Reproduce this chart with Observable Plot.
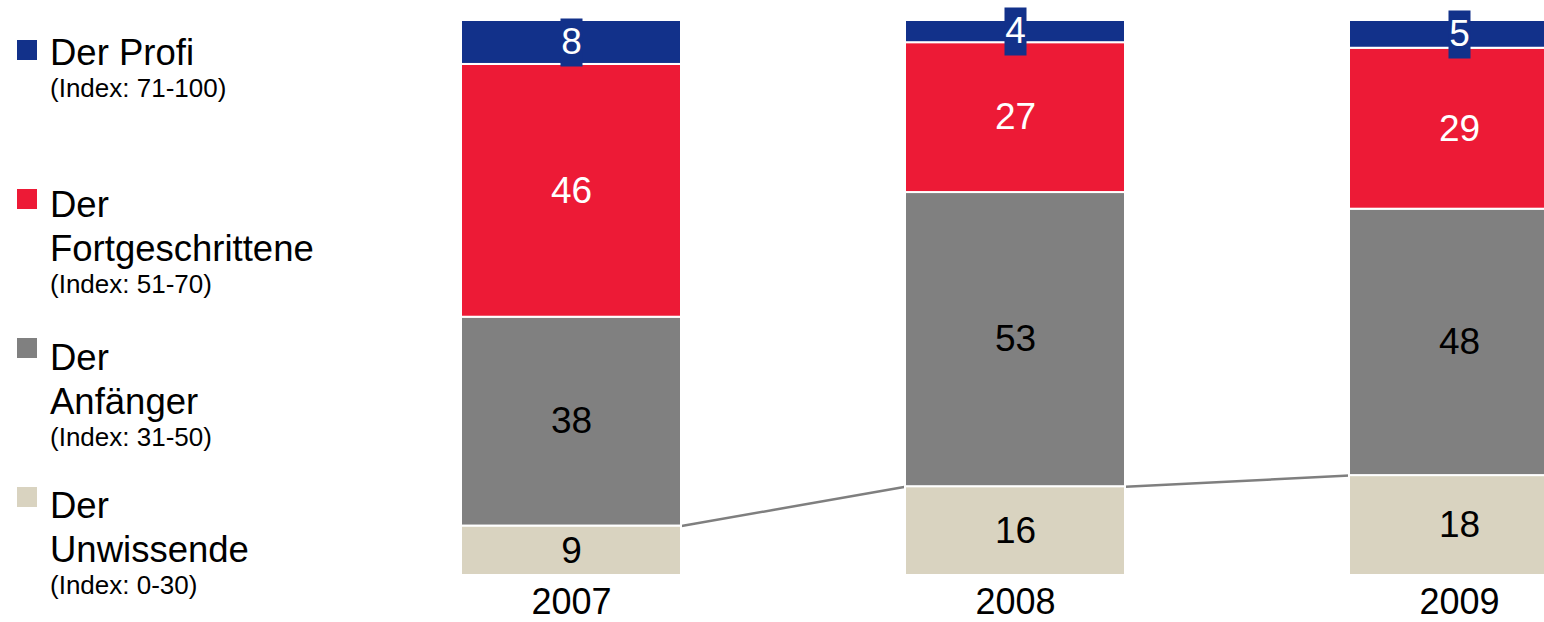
<!DOCTYPE html>
<html>
<head>
<meta charset="utf-8">
<script src="https://cdn.jsdelivr.net/npm/d3@7"></script>
<script src="https://cdn.jsdelivr.net/npm/@observablehq/plot@0.6"></script>
<style>
  html, body { margin: 0; padding: 0; background: #fff; overflow: hidden; }
  #wrap { position: relative; width: 1544px; height: 622px; overflow: hidden;
          font-family: "Liberation Sans", Arial, sans-serif; }
  #chart { position: absolute; left: 0; top: 0; }
  #legend { position: absolute; left: 0; top: 0; width: 340px; height: 622px; z-index: 2; }
  .sw { position: absolute; left: 17px; width: 20px; height: 20px; }
  .lbl { position: absolute; left: 50px; white-space: nowrap; color: #000; }
  .big { font-size: 36.5px; line-height: 44px; }
  .small { font-size: 26px; line-height: 26px; }
</style>
</head>
<body>
<div id="wrap"><div id="chart"></div><div id="legend"></div></div>
<script>
// ---- data ----
const years = ["2007", "2008", "2009"];
const categories = ["Der Unwissende", "Der Anfänger", "Der Fortgeschrittene", "Der Profi"];
const unwissende = [9, 16, 18];
const anfaenger = [38, 53, 48];
const fortgeschrittene = [46, 27, 29];
const profi = [8, 4, 5];
const indexRanges = ["(Index: 0-30)", "(Index: 31-50)", "(Index: 51-70)", "(Index: 71-100)"];
const legendLines = [["Der", "Unwissende"], ["Der", "Anfänger"], ["Der", "Fortgeschrittene"], ["Der Profi"]];

// ---- styles ----
const colors = ["#d9d3c0", "#808080", "#ed1a36", "#12318a"];
const textColors = ["#000000", "#000000", "#ffffff", "#ffffff"];
const legendBaselines = [518, 370, 217, 65];
const legendSquares = [487, 338, 189, 40];
const BAR_HALF = 110;

// ---- legend ----
const legend = document.getElementById("legend");
categories.forEach((cat, i) => {
  const sw = document.createElement("div");
  sw.className = "sw";
  sw.style.top = legendSquares[i] + "px";
  sw.style.background = colors[i];
  legend.appendChild(sw);
  const lbl = document.createElement("div");
  lbl.className = "lbl";
  lbl.style.top = (legendBaselines[i] - 34.5) + "px";
  legendLines[i].forEach(t => {
    const d = document.createElement("div");
    d.className = "big";
    d.textContent = t;
    lbl.appendChild(d);
  });
  const s = document.createElement("div");
  s.className = "small";
  s.textContent = indexRanges[i];
  lbl.appendChild(s);
  legend.appendChild(lbl);
});

// ---- chart ----
const series = [unwissende, anfaenger, fortgeschrittene, profi];
const data = categories.flatMap((cat, ci) =>
  years.map((year, yi) => ({year, cat, ci, value: series[ci][yi]})));
const totals = years.map((y, yi) => series.reduce((s, arr) => s + arr[yi], 0));
const links = years.slice(0, -1).map((y, i) => ({
  x1: y, x2: years[i + 1],
  y1: unwissende[i] / totals[i], y2: unwissende[i + 1] / totals[i + 1]
}));

const stackOpts = (o) => Plot.stackY({x: "year", y: "value", z: "cat", offset: "normalize", ...o});

function edgeCurve(context) {
  let pts = [];
  return {
    areaStart() {}, areaEnd() {},
    lineStart() { pts = []; },
    point(x, y) { pts.push([x, y]); },
    lineEnd() {
      const [a, b] = pts;
      context.moveTo(a[0] + BAR_HALF, a[1]);
      context.lineTo(b[0] - BAR_HALF, b[1]);
    }
  };
}

const boxSymbol = {draw(ctx) { ctx.rect(-11, -24, 22, 48); }};

const chart = Plot.plot({
  width: 1544,
  height: 622,
  marginTop: 20,
  marginBottom: 47,
  marginLeft: 0,
  marginRight: 0,
  x: {type: "band", domain: years, range: [235.5, 1793.5], padding: 0.505},
  y: {domain: [0, 1], range: [575, 20], axis: null},
  color: {type: "identity"},
  style: {fontFamily: "'Liberation Sans', Arial, sans-serif", color: "black", background: "white", overflow: "hidden"},
  marks: [
    Plot.link(links, {x1: "x1", x2: "x2", y1: "y1", y2: "y2", stroke: "#7f7f7f", strokeWidth: 2.5, curve: edgeCurve}),
    Plot.barY(data, stackOpts({fill: d => colors[d.ci], stroke: "white", strokeWidth: 2})),
    Plot.dot(data, stackOpts({fill: d => d.ci === 3 ? colors[3] : "none", stroke: "none", symbol: boxSymbol, r: 10})),
    Plot.text(data, stackOpts({text: d => String(d.value), fill: d => textColors[d.ci], fontSize: 37})),
    Plot.axisX({tickSize: 0, tickPadding: 13, fontSize: 36, label: null})
  ]
});
document.getElementById("chart").appendChild(chart);
</script>
</body>
</html>
